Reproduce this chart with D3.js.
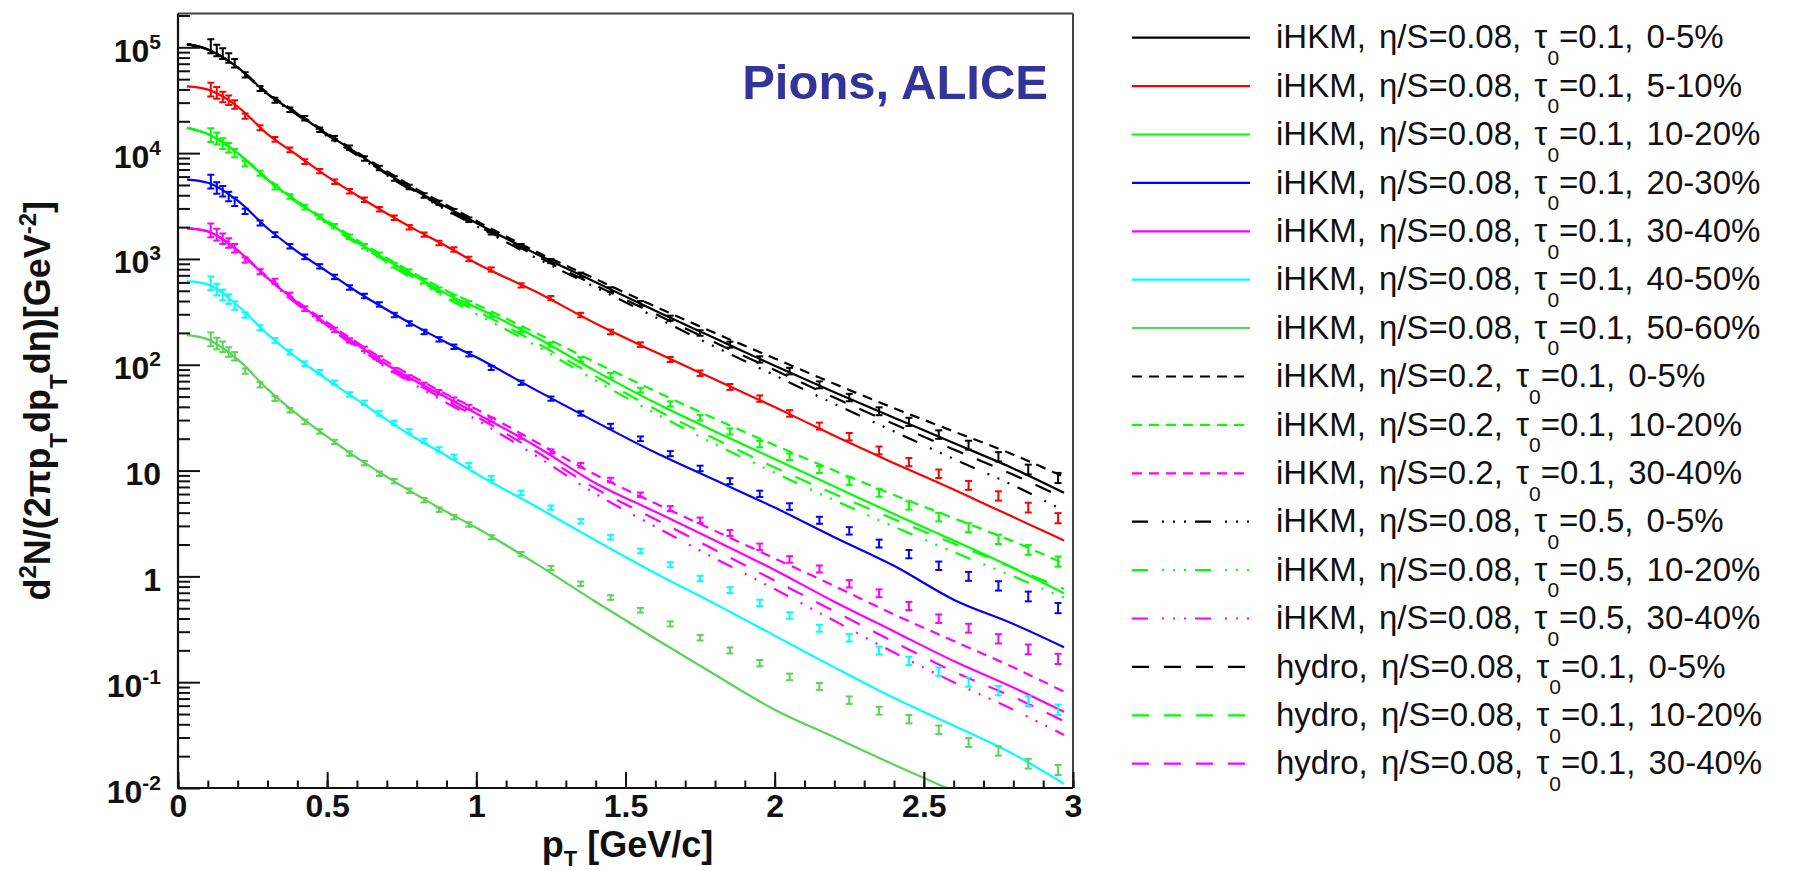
<!DOCTYPE html>
<html>
<head>
<meta charset="utf-8">
<script src="https://cdn.jsdelivr.net/npm/d3@7"></script>
<style>
  body { margin: 0; background: #ffffff; }
  svg { display: block; }
  text { font-family: "Liberation Sans", Arial, Helvetica, sans-serif; }
</style>
</head>
<body>
<svg id="chart" width="1797" height="871"></svg>
<script>
// ALICE pion pT bin centres (GeV/c)
const ptBins = [0.11, 0.13, 0.15, 0.17, 0.19, 0.225, 0.275, 0.325, 0.375, 0.425, 0.475, 0.525, 0.575, 0.625, 0.675,
  0.725, 0.775, 0.825, 0.875, 0.925, 0.975, 1.05, 1.15, 1.25, 1.35, 1.45, 1.55, 1.65, 1.75, 1.85, 1.95,
  2.05, 2.15, 2.25, 2.35, 2.45, 2.55, 2.65, 2.75, 2.85, 2.95];

// measured spectra, log10 of d2N/(2pi pT dpT deta), one array per centrality
const alice0_5 = [5.01, 4.97, 4.94, 4.90, 4.85, 4.74, 4.61, 4.50, 4.41, 4.33, 4.22, 4.14, 4.05, 3.95, 3.86,
  3.76, 3.68, 3.60, 3.53, 3.45, 3.37, 3.25, 3.12, 2.98, 2.85, 2.71, 2.58, 2.44, 2.30, 2.19, 2.05,
  1.94, 1.81, 1.69, 1.56, 1.46, 1.34, 1.24, 1.13, 1.01, 0.93];
const alice5_10 = [4.60, 4.57, 4.53, 4.50, 4.46, 4.35, 4.24, 4.13, 4.03, 3.92, 3.83, 3.73, 3.64, 3.56, 3.47,
  3.39, 3.30, 3.23, 3.15, 3.09, 3.00, 2.90, 2.75, 2.63, 2.47, 2.31, 2.19, 2.05, 1.92, 1.79, 1.68,
  1.54, 1.42, 1.32, 1.19, 1.08, 0.97, 0.86, 0.76, 0.65, 0.55];
const alice10_20 = [4.17, 4.14, 4.09, 4.05, 4.00, 3.90, 3.81, 3.68, 3.59, 3.49, 3.40, 3.31, 3.21, 3.12, 3.04,
  2.94, 2.88, 2.79, 2.71, 2.64, 2.58, 2.47, 2.33, 2.19, 2.05, 1.90, 1.76, 1.63, 1.50, 1.37, 1.25,
  1.13, 1.01, 0.90, 0.79, 0.67, 0.56, 0.46, 0.35, 0.25, 0.14];
const alice20_30 = [3.73, 3.67, 3.64, 3.59, 3.54, 3.45, 3.34, 3.23, 3.12, 3.02, 2.93, 2.83, 2.73, 2.65, 2.57,
  2.47, 2.39, 2.31, 2.24, 2.17, 2.10, 1.97, 1.83, 1.68, 1.54, 1.42, 1.30, 1.16, 1.02, 0.90, 0.78,
  0.66, 0.53, 0.43, 0.31, 0.21, 0.10, 0.00, -0.09, -0.19, -0.30];
const alice30_40 = [3.27, 3.23, 3.19, 3.15, 3.10, 2.99, 2.88, 2.79, 2.66, 2.53, 2.44, 2.33, 2.23, 2.15, 2.06,
  1.95, 1.88, 1.81, 1.74, 1.67, 1.60, 1.48, 1.32, 1.18, 1.05, 0.91, 0.77, 0.64, 0.53, 0.41, 0.28,
  0.16, 0.07, -0.07, -0.16, -0.28, -0.40, -0.49, -0.59, -0.69, -0.78];
const alice40_50 = [2.77, 2.71, 2.66, 2.62, 2.56, 2.47, 2.35, 2.23, 2.12, 2.01, 1.93, 1.83, 1.72, 1.64, 1.54,
  1.45, 1.37, 1.28, 1.20, 1.13, 1.05, 0.93, 0.79, 0.65, 0.52, 0.37, 0.24, 0.11, -0.02, -0.13, -0.25,
  -0.37, -0.49, -0.58, -0.70, -0.80, -0.90, -1.00, -1.08, -1.18, -1.26];
const alice50_60 = [2.24, 2.20, 2.17, 2.12, 2.08, 1.94, 1.81, 1.68, 1.57, 1.46, 1.37, 1.27, 1.16, 1.07, 0.97,
  0.90, 0.81, 0.72, 0.63, 0.56, 0.49, 0.37, 0.21, 0.08, -0.07, -0.20, -0.32, -0.45, -0.58, -0.70, -0.82,
  -0.95, -1.04, -1.17, -1.27, -1.35, -1.45, -1.57, -1.65, -1.77, -1.83];
// half height of the error bars, in decades
const errLog = [0.065, 0.055, 0.05, 0.045, 0.04, 0.025, 0.024, 0.023, 0.022, 0.022, 0.021, 0.021, 0.021, 0.021, 0.021,
  0.021, 0.021, 0.021, 0.021, 0.021, 0.021, 0.02, 0.02, 0.02, 0.021, 0.022, 0.022, 0.024, 0.026, 0.028, 0.03,
  0.031, 0.033, 0.035, 0.037, 0.039, 0.04, 0.042, 0.044, 0.046, 0.048];

// model curves, log10 values sampled at ptModel
const ptModel = [0.03, 0.1, 0.2, 0.3, 0.4, 0.5, 0.6, 0.7, 0.8, 0.9, 1.0, 1.2, 1.4, 1.6, 1.8, 2.0, 2.2, 2.4, 2.6, 2.8, 2.97];
const ihkm0_5 = [5.03, 4.98, 4.81, 4.56, 4.37, 4.18, 4.00, 3.81, 3.64, 3.49, 3.34, 3.05, 2.78, 2.51, 2.25, 1.99, 1.74, 1.50, 1.26, 1.02, 0.79];
const ihkm5_10 = [4.63, 4.60, 4.44, 4.18, 3.98, 3.78, 3.60, 3.43, 3.27, 3.12, 2.96, 2.69, 2.39, 2.12, 1.86, 1.60, 1.33, 1.07, 0.82, 0.56, 0.34];
const ihkm10_20 = [4.24, 4.18, 4.00, 3.75, 3.54, 3.35, 3.16, 2.99, 2.83, 2.67, 2.54, 2.26, 1.94, 1.64, 1.37, 1.11, 0.85, 0.59, 0.34, 0.08, -0.16];
const ihkm20_30 = [3.75, 3.72, 3.55, 3.29, 3.07, 2.88, 2.69, 2.52, 2.36, 2.21, 2.07, 1.76, 1.46, 1.17, 0.91, 0.65, 0.37, 0.10, -0.22, -0.45, -0.67];
const ihkm30_40 = [3.29, 3.26, 3.08, 2.82, 2.59, 2.38, 2.19, 2.00, 1.84, 1.69, 1.54, 1.23, 0.88, 0.61, 0.34, 0.06, -0.24, -0.52, -0.80, -1.05, -1.28];
const ihkm40_50 = [2.79, 2.76, 2.56, 2.29, 2.06, 1.86, 1.67, 1.48, 1.30, 1.14, 0.97, 0.66, 0.34, 0.03, -0.26, -0.56, -0.86, -1.15, -1.41, -1.68, -1.96];
const ihkm50_60 = [2.28, 2.24, 2.05, 1.77, 1.53, 1.32, 1.12, 0.94, 0.77, 0.61, 0.46, 0.12, -0.24, -0.59, -0.93, -1.26, -1.52, -1.78, -2.03, null, null];
const eta02_0_5 = [5.03, 4.98, 4.81, 4.57, 4.38, 4.19, 4.01, 3.83, 3.66, 3.51, 3.36, 3.07, 2.81, 2.55, 2.30, 2.06, 1.82, 1.59, 1.37, 1.15, 0.94];
const eta02_10_20 = [4.24, 4.18, 4.00, 3.76, 3.55, 3.36, 3.18, 3.01, 2.85, 2.70, 2.57, 2.30, 2.02, 1.75, 1.49, 1.24, 1.00, 0.77, 0.55, 0.33, 0.12];
const eta02_30_40 = [3.29, 3.26, 3.08, 2.83, 2.60, 2.40, 2.21, 2.03, 1.87, 1.72, 1.58, 1.27, 0.96, 0.69, 0.43, 0.17, -0.09, -0.36, -0.61, -0.86, -1.09];
const tau05_0_5 = [5.03, 4.98, 4.81, 4.55, 4.36, 4.16, 3.98, 3.79, 3.62, 3.46, 3.31, 3.01, 2.73, 2.45, 2.17, 1.90, 1.63, 1.37, 1.11, 0.86, 0.62];
const tau05_10_20 = [4.24, 4.18, 4.00, 3.74, 3.53, 3.33, 3.14, 2.96, 2.79, 2.63, 2.48, 2.18, 1.85, 1.54, 1.25, 0.98, 0.72, 0.47, 0.23, 0.00, -0.20];
const tau05_30_40 = [3.29, 3.26, 3.08, 2.81, 2.57, 2.36, 2.16, 1.97, 1.80, 1.64, 1.48, 1.14, 0.78, 0.47, 0.17, -0.12, -0.42, -0.72, -1.00, -1.26, -1.50];
const hydro0_5 = [5.03, 4.98, 4.81, 4.56, 4.37, 4.17, 3.99, 3.80, 3.63, 3.47, 3.32, 3.03, 2.75, 2.48, 2.21, 1.95, 1.69, 1.44, 1.20, 0.96, 0.74];
const hydro10_20 = [4.24, 4.18, 4.00, 3.75, 3.54, 3.34, 3.15, 2.97, 2.81, 2.65, 2.51, 2.21, 1.89, 1.58, 1.30, 1.03, 0.78, 0.54, 0.31, 0.08, -0.12];
const hydro30_40 = [3.29, 3.26, 3.08, 2.82, 2.58, 2.37, 2.17, 1.98, 1.82, 1.66, 1.51, 1.18, 0.83, 0.54, 0.25, -0.04, -0.33, -0.62, -0.90, -1.14, -1.37];

const yMajor = [1e-2, 1e-1, 1, 10, 1e2, 1e3, 1e4, 1e5];
const xMajor = [0, 0.5, 1, 1.5, 2, 2.5, 3];

const col = {
  c0_5: '#000000', c5_10: '#ff0000', c10_20: '#00ff00', c20_30: '#0000ff',
  c30_40: '#ff00ff', c40_50: '#00ffff', c50_60: '#59d454'
};
const dashes = { solid: null, eta: '10 7', tau: '16 14 2 9 2 9 2 9', hydro: '17 15' };

const dataSets = [
  { vals: alice0_5, color: col.c0_5 },
  { vals: alice5_10, color: col.c5_10 },
  { vals: alice10_20, color: col.c10_20 },
  { vals: alice20_30, color: col.c20_30 },
  { vals: alice30_40, color: col.c30_40 },
  { vals: alice40_50, color: col.c40_50 },
  { vals: alice50_60, color: col.c50_60 }
];

const models = [
  { vals: ihkm0_5, color: col.c0_5, dash: dashes.solid, pre: 'iHKM, η/S=0.08, τ', post: '=0.1, 0-5%' },
  { vals: ihkm5_10, color: col.c5_10, dash: dashes.solid, pre: 'iHKM, η/S=0.08, τ', post: '=0.1, 5-10%' },
  { vals: ihkm10_20, color: col.c10_20, dash: dashes.solid, pre: 'iHKM, η/S=0.08, τ', post: '=0.1, 10-20%' },
  { vals: ihkm20_30, color: col.c20_30, dash: dashes.solid, pre: 'iHKM, η/S=0.08, τ', post: '=0.1, 20-30%' },
  { vals: ihkm30_40, color: col.c30_40, dash: dashes.solid, pre: 'iHKM, η/S=0.08, τ', post: '=0.1, 30-40%' },
  { vals: ihkm40_50, color: col.c40_50, dash: dashes.solid, pre: 'iHKM, η/S=0.08, τ', post: '=0.1, 40-50%' },
  { vals: ihkm50_60, color: col.c50_60, dash: dashes.solid, pre: 'iHKM, η/S=0.08, τ', post: '=0.1, 50-60%' },
  { vals: eta02_0_5, color: col.c0_5, dash: dashes.eta, pre: 'iHKM, η/S=0.2, τ', post: '=0.1, 0-5%' },
  { vals: eta02_10_20, color: col.c10_20, dash: dashes.eta, pre: 'iHKM, η/S=0.2, τ', post: '=0.1, 10-20%' },
  { vals: eta02_30_40, color: col.c30_40, dash: dashes.eta, pre: 'iHKM, η/S=0.2, τ', post: '=0.1, 30-40%' },
  { vals: tau05_0_5, color: col.c0_5, dash: dashes.tau, pre: 'iHKM, η/S=0.08, τ', post: '=0.5, 0-5%' },
  { vals: tau05_10_20, color: col.c10_20, dash: dashes.tau, pre: 'iHKM, η/S=0.08, τ', post: '=0.5, 10-20%' },
  { vals: tau05_30_40, color: col.c30_40, dash: dashes.tau, pre: 'iHKM, η/S=0.08, τ', post: '=0.5, 30-40%' },
  { vals: hydro0_5, color: col.c0_5, dash: dashes.hydro, pre: 'hydro, η/S=0.08, τ', post: '=0.1, 0-5%' },
  { vals: hydro10_20, color: col.c10_20, dash: dashes.hydro, pre: 'hydro, η/S=0.08, τ', post: '=0.1, 10-20%' },
  { vals: hydro30_40, color: col.c30_40, dash: dashes.hydro, pre: 'hydro, η/S=0.08, τ', post: '=0.1, 30-40%' }
];

const svg = d3.select('#chart');
const x = d3.scaleLinear().domain([0, 3]).range([178, 1073]);
const y = d3.scaleLog().domain([1e-2, 2.087e5]).range([788, 13.5]);

// text with sub/superscripts: parts = [[text, 'sub'|'sup'|null], ...]
function richText(sel, parts, size, smallSize, rise, drop) {
  let cur = 0;
  parts.forEach(([t, kind]) => {
    const target = kind === 'sup' ? -rise : kind === 'sub' ? drop : 0;
    sel.append('tspan')
      .attr('dy', target - cur)
      .attr('font-size', kind ? smallSize : size)
      .text(t);
    cur = target;
  });
  return sel;
}

svg.append('defs').append('clipPath').attr('id', 'plot-clip')
  .append('rect')
  .attr('x', x(0)).attr('y', y.range()[1])
  .attr('width', x(3) - x(0)).attr('height', y(1e-2) - y.range()[1]);

// model curves
const line = d3.line()
  .defined(d => d[1] !== null)
  .x(d => x(d[0]))
  .y(d => y(Math.pow(10, d[1])))
  .curve(d3.curveMonotoneX);

const curveG = svg.append('g').attr('clip-path', 'url(#plot-clip)');
models.forEach(m => {
  curveG.append('path')
    .datum(ptModel.map((p, i) => [p, m.vals[i]]))
    .attr('d', line)
    .attr('fill', 'none')
    .attr('stroke', m.color)
    .attr('stroke-width', 2.2)
    .attr('stroke-dasharray', m.dash);
});

// data points with error bars
const pointG = svg.append('g').attr('clip-path', 'url(#plot-clip)');
dataSets.forEach(s => {
  const pts = ptBins.map((p, i) => ({ p, v: s.vals[i], e: errLog[i] }));
  const g = pointG.append('g').attr('stroke', s.color).attr('stroke-width', 2);
  g.selectAll('.bar').data(pts).join('line')
    .attr('x1', d => x(d.p)).attr('x2', d => x(d.p))
    .attr('y1', d => y(Math.pow(10, d.v - d.e)))
    .attr('y2', d => y(Math.pow(10, d.v + d.e)));
  ['lo', 'hi'].forEach(side => {
    g.selectAll('.cap-' + side).data(pts).join('line')
      .attr('x1', d => x(d.p) - 3.5).attr('x2', d => x(d.p) + 3.5)
      .attr('y1', d => y(Math.pow(10, side === 'lo' ? d.v - d.e : d.v + d.e)))
      .attr('y2', d => y(Math.pow(10, side === 'lo' ? d.v - d.e : d.v + d.e)));
  });
});

// frame
svg.append('line').attr('x1', x(0)).attr('x2', x(3)).attr('y1', y.range()[1]).attr('y2', y.range()[1])
  .attr('stroke', '#444').attr('stroke-width', 2);
svg.append('line').attr('x1', x(3)).attr('x2', x(3)).attr('y1', y.range()[1]).attr('y2', y(1e-2))
  .attr('stroke', '#444').attr('stroke-width', 2);

// y axis
const yMinor = y.ticks().filter(v => Math.abs(Math.log10(v) - Math.round(Math.log10(v))) > 1e-6);
const yAxisG = svg.append('g').attr('transform', `translate(${x(0)},0)`);
yAxisG.append('g').call(d3.axisLeft(y).tickValues(yMinor).tickSize(-12).tickFormat(''));
yAxisG.append('g').call(d3.axisLeft(y).tickValues(yMajor).tickSize(-22).tickFormat(''));
yAxisG.selectAll('.domain').remove();
yAxisG.selectAll('line').attr('stroke', '#111').attr('stroke-width', 2);
yAxisG.append('line').attr('x1', 0).attr('x2', 0).attr('y1', y.range()[1]).attr('y2', y(1e-2))
  .attr('stroke', '#111').attr('stroke-width', 2.2);

yMajor.forEach(v => {
  const e = Math.round(Math.log10(v));
  const t = svg.append('text')
    .attr('x', 161).attr('y', y(v) + 14.5)
    .attr('text-anchor', 'end')
    .attr('font-weight', 'bold')
    .attr('fill', '#111');
  if (e === 0) richText(t, [['1', null]], 32, 20, 13, 0);
  else if (e === 1) richText(t, [['10', null]], 32, 20, 13, 0);
  else richText(t, [['10', null], [String(e), 'sup']], 32, 21, 13, 0);
});

// x axis
const xAxisG = svg.append('g').attr('transform', `translate(0,${y(1e-2)})`);
xAxisG.append('g').call(d3.axisBottom(x).tickValues(x.ticks(30)).tickSize(-7.5).tickFormat(''));
xAxisG.append('g').call(d3.axisBottom(x).tickValues(xMajor).tickSize(-16).tickPadding(6).tickFormat(d => d));
xAxisG.selectAll('.domain').remove();
xAxisG.selectAll('line').attr('stroke', '#111').attr('stroke-width', 2);
xAxisG.selectAll('text')
  .attr('font-family', '"Liberation Sans", Arial, sans-serif')
  .attr('font-size', 32).attr('font-weight', 'bold').attr('fill', '#111');
xAxisG.append('line').attr('x1', x(0) - 1).attr('x2', x(3)).attr('y1', 0).attr('y2', 0)
  .attr('stroke', '#111').attr('stroke-width', 2.2);

// axis titles
richText(svg.append('text')
  .attr('x', (x(0) + x(3)) / 2 + 2).attr('y', 857)
  .attr('text-anchor', 'middle').attr('font-weight', 'bold').attr('fill', '#111'),
  [['p', null], ['T', 'sub'], [' [GeV/c]', null]], 36, 22, 0, 9);

richText(svg.append('text')
  .attr('transform', `translate(50,${(y.range()[1] + y(1e-2)) / 2}) rotate(-90)`)
  .attr('text-anchor', 'middle').attr('font-weight', 'bold').attr('fill', '#111'),
  [['d', null], ['2', 'sup'], ['N/(2πp', null], ['T', 'sub'], ['dp', null], ['T', 'sub'],
   ['dη)[GeV', null], ['-2', 'sup'], [']', null]], 36, 24, 14, 17);

// plot label
svg.append('text')
  .attr('x', 1048).attr('y', 99)
  .attr('text-anchor', 'end')
  .attr('font-size', 49).attr('font-weight', 'bold')
  .attr('fill', '#333399')
  .text('Pions, ALICE');

// legend
const legend = svg.append('g');
models.forEach((m, i) => {
  const ry = 37.7 + i * 48.4;
  legend.append('line')
    .attr('x1', 1132).attr('x2', 1250).attr('y1', ry).attr('y2', ry)
    .attr('stroke', m.color).attr('stroke-width', 2.2)
    .attr('stroke-dasharray', m.dash);
  richText(legend.append('text').attr('x', 1276).attr('y', ry + 10.7)
    .attr('fill', '#111').attr('word-spacing', 4),
    [[m.pre, null], ['0', 'sub'], [m.post, null]], 33, 21, 0, 16.5);
});
</script>
</body>
</html>
